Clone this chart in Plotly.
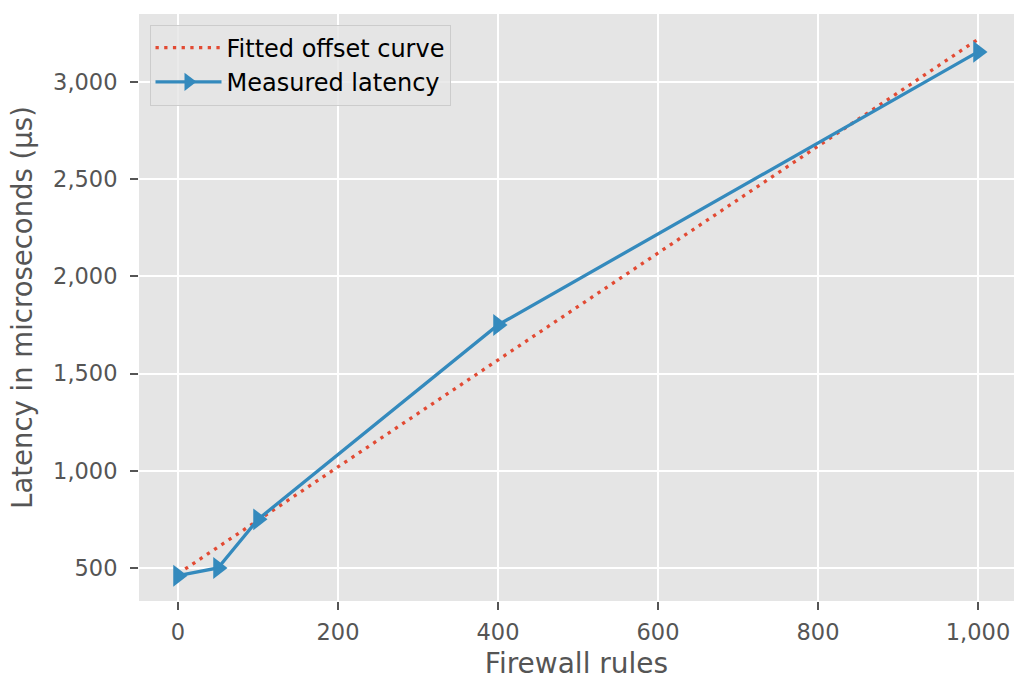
import plotly.graph_objects as go

# Measured latency per firewall rule count
rules = [0, 50, 100, 400, 1000]
latency_us = [460, 500, 750, 1750, 3155]

# Fitted offset curve (linear fit endpoints)
fit_rules = [0, 1000]
fit_latency_us = [470, 3220]

x_ticks = [0, 200, 400, 600, 800, 1000]
y_ticks = [500, 1000, 1500, 2000, 2500, 3000]

BLUE = "#348ABD"
RED = "#E24A33"
GREY_TXT = "#555555"
FONT = "DejaVu Sans"

fig = go.Figure()

fig.add_trace(go.Scatter(
    x=fit_rules, y=fit_latency_us, mode="lines",
    name="Fitted offset curve",
    line=dict(color=RED, width=3.3, dash="3.3px,5.4px"),
))

fig.add_trace(go.Scatter(
    x=rules, y=latency_us, mode="lines+markers",
    name="Measured latency",
    line=dict(color=BLUE, width=3.3),
    marker=dict(symbol="triangle-right", size=19, color=BLUE,
                line=dict(width=0)),
))

axis_common = dict(
    showgrid=True, gridcolor="white", gridwidth=1.6,
    zeroline=False, showline=False,
    ticks="outside", ticklen=8, tickwidth=1.6, tickcolor=GREY_TXT,
    tickfont=dict(family=FONT, size=22.5, color=GREY_TXT),
    tickformat=",",
)

fig.update_xaxes(
    range=[-48.75, 1045], tickvals=x_ticks, ticklabelstandoff=3,
    title=dict(text="Firewall rules", font=dict(family=FONT, size=28, color=GREY_TXT), standoff=16),
    **axis_common,
)
fig.update_yaxes(
    range=[330, 3350], tickvals=y_ticks, ticklabelstandoff=8,
    title=dict(text="Latency in microseconds (µs)", font=dict(family=FONT, size=27.5, color=GREY_TXT), standoff=12),
    **axis_common,
)

fig.update_layout(
    width=1014, height=680,
    margin=dict(l=139, r=0, t=14, b=79),
    paper_bgcolor="white", plot_bgcolor="#E5E5E5",
    font=dict(family=FONT, color="black"),
    legend=dict(
        x=0.012, y=0.982, xanchor="left", yanchor="top",
        bgcolor="rgba(229,229,229,0.8)", bordercolor="#CCCCCC", borderwidth=1,
        font=dict(family=FONT, size=24, color="black"),
        itemwidth=66, tracegroupgap=2,
    ),
    showlegend=True,
)

fig.write_html("out.html")
